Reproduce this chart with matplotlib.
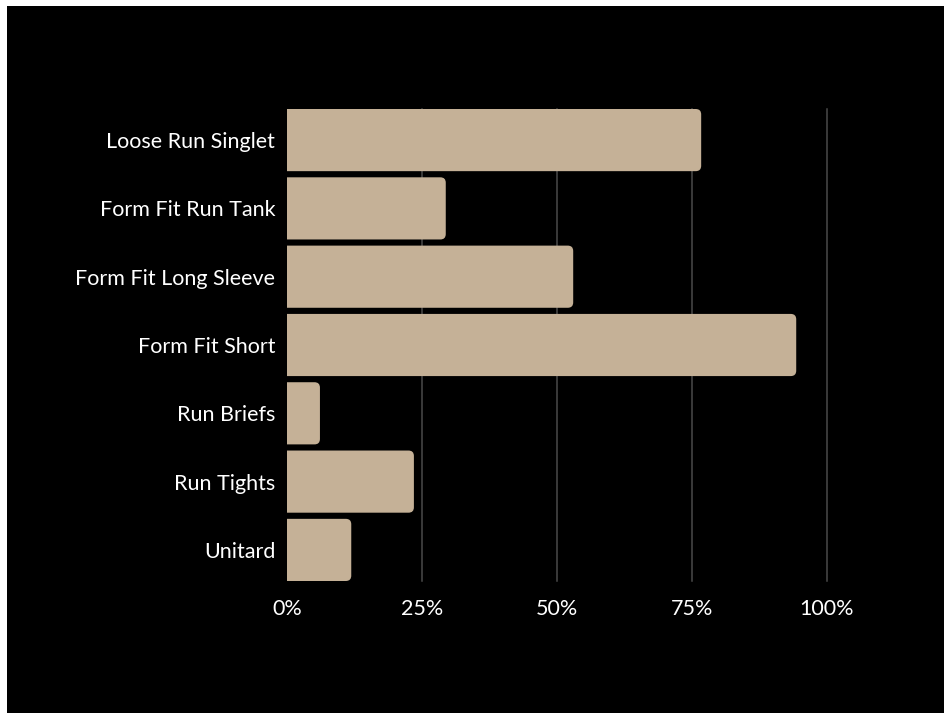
import matplotlib
matplotlib.use("Agg")
import matplotlib.pyplot as plt
from matplotlib.patches import FancyBboxPatch, Rectangle

categories = ["Loose Run Singlet", "Form Fit Run Tank", "Form Fit Long Sleeve",
              "Form Fit Short", "Run Briefs", "Run Tights", "Unitard"]
values = [76.7, 29.4, 53.0, 94.3, 6.1, 23.5, 11.9]
xticks = [0, 25, 50, 75, 100]
xticklabels = ["0%", "25%", "50%", "75%", "100%"]

BAR_COLOR = "#C5B197"
W, H = 945, 713
fig = plt.figure(figsize=(W / 100, H / 100), dpi=100, facecolor="white")
fig.patches.append(Rectangle((7 / W, 0), 1, 1 - 6 / H, transform=fig.transFigure,
                             facecolor="black", edgecolor="none", zorder=-10))

ax = fig.add_axes([287 / W, 132 / H, 540 / W, 472 / H])
ax.set_facecolor("black")
ax.patch.set_alpha(0)

ypos = list(range(len(categories)))
bh = 0.91
bars = ax.barh(ypos, values, height=bh, color=BAR_COLOR, alpha=0)
for b in bars:
    x0, y0 = b.get_x(), b.get_y()
    w, h = b.get_width(), b.get_height()
    p = FancyBboxPatch((x0 - 3, y0), w + 3, h,
                       boxstyle="round,pad=0,rounding_size=1.0",
                       mutation_aspect=0.079, facecolor=BAR_COLOR,
                       edgecolor="none", zorder=3, clip_on=True)
    ax.add_patch(p)

ax.set_xlim(0, 100)
ax.set_ylim(len(categories) - 1 + bh / 2, -bh / 2)
ax.set_yticks(ypos)
ax.set_yticklabels(categories)
ax.set_xticks(xticks)
ax.set_xticklabels(xticklabels)
for x in xticks[1:]:
    ax.axvline(x, color="#4a4a4a", lw=1.1, zorder=1, clip_on=False)
for s in ax.spines.values():
    s.set_visible(False)
ax.tick_params(length=0, colors="white", labelsize=15.5)
ax.tick_params(axis="y", pad=8.5)
ax.tick_params(axis="x", pad=13)
for t in ax.get_xticklabels() + ax.get_yticklabels():
    t.set_fontfamily("Lato")
    t.set_color("white")

fig.savefig("out.png", dpi=100, facecolor=fig.get_facecolor())
